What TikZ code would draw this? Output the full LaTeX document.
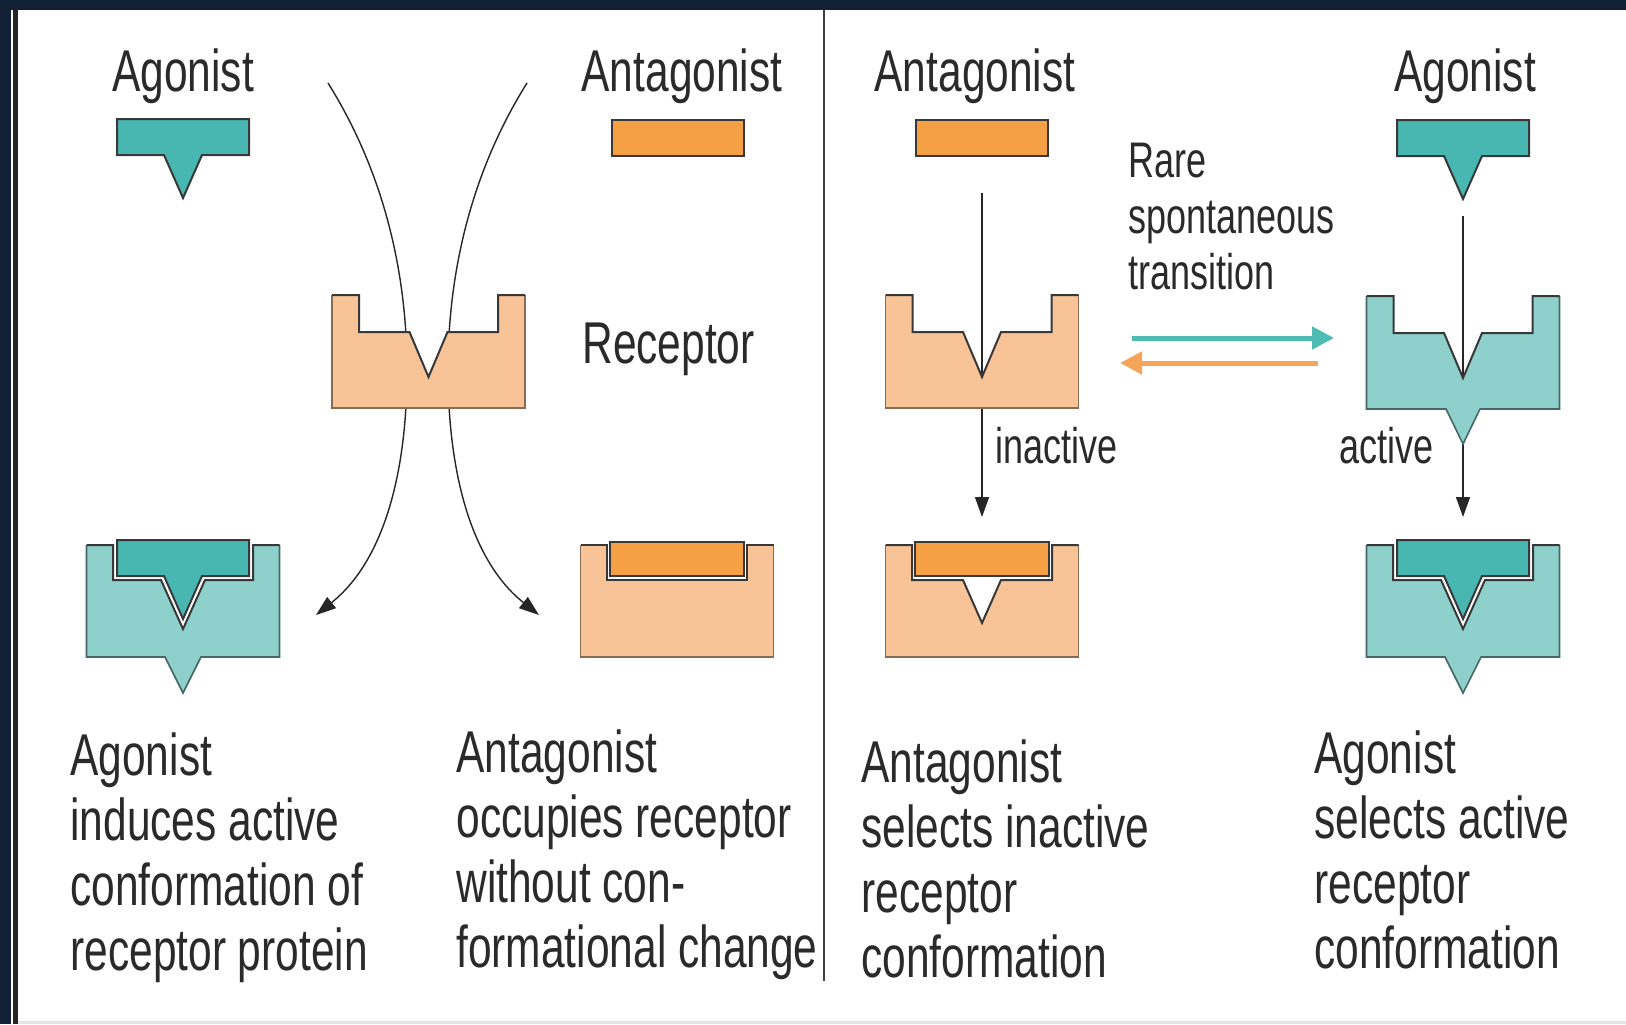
\documentclass[tikz,border=0pt]{standalone}
\usepackage{fontspec}
\setmainfont{Liberation Sans}[FakeStretch=0.72]
\usetikzlibrary{arrows.meta}
\definecolor{navy}{HTML}{122036}
\definecolor{agoD}{HTML}{48B7B1}
\definecolor{agoL}{HTML}{8DD0CC}
\definecolor{antD}{HTML}{F6A046}
\definecolor{antL}{HTML}{F8C396}
\definecolor{ink}{HTML}{2A2A2A}
\definecolor{edge}{HTML}{383838}
\definecolor{arrT}{HTML}{4FBCB4}
\definecolor{arrO}{HTML}{F4A55A}
\tikzset{
  lig/.style={draw=edge, line width=1pt, line join=miter},
  notch/.style={draw=edge, line width=1pt, line join=miter},
  outerO/.style={draw=antL!55!black, line width=0.8pt},
  outerT/.style={draw=agoL!50!black, line width=0.8pt},
  thinarrow/.style={draw=black!85, line width=0.7pt, -{Triangle[length=10pt,width=7pt]}},
  hd/.style={font=\fontsize{29.5pt}{32.5pt}\selectfont, text=ink, inner sep=0pt},
  sm/.style={font=\fontsize{25pt}{28pt}\selectfont, text=ink, inner sep=0pt},
  captext/.style={hd, align=left, anchor=base west},
  agonistpic/.pic={\filldraw[lig, fill=agoD] (-66,0) -- (66,0) -- (66,36) -- (19,36) -- (0,79) -- (-19,36) -- (-66,36) -- cycle;},
  antagonistpic/.pic={\filldraw[lig, fill=antD] (-66,0) rectangle (66,36);},
  recfreeO/.pic={
    \fill[antL] (-96.5,0) -- (-69.5,0) -- (-69.5,37) -- (-19,37) -- (0,82) -- (19,37) -- (69.5,37) -- (69.5,0) -- (96.5,0) -- (96.5,113) -- (-96.5,113) -- cycle;
    \draw[outerO] (96.5,0) -- (96.5,113) -- (-96.5,113) -- (-96.5,0);
    \draw[notch] (-96.5,0) -- (-69.5,0) -- (-69.5,37) -- (-19,37) -- (0,82) -- (19,37) -- (69.5,37) -- (69.5,0) -- (96.5,0);
  },
  recfreeT/.pic={
    \fill[agoL] (-96.5,0) -- (-69.5,0) -- (-69.5,37) -- (-19,37) -- (0,82) -- (19,37) -- (69.5,37) -- (69.5,0) -- (96.5,0) -- (96.5,113) -- (17,113) -- (0,148) -- (-17,113) -- (-96.5,113) -- cycle;
    \draw[outerT, line join=miter] (96.5,0) -- (96.5,113) -- (17,113) -- (0,148) -- (-17,113) -- (-96.5,113) -- (-96.5,0);
    \draw[notch] (-96.5,0) -- (-69.5,0) -- (-69.5,37) -- (-19,37) -- (0,82) -- (19,37) -- (69.5,37) -- (69.5,0) -- (96.5,0);
  },
  boundAgo/.pic={
    \fill[agoL] (-96.5,0) -- (-70,0) -- (-70,35) -- (-22,35) -- (0,84) -- (22,35) -- (70,35) -- (70,0) -- (96.5,0) -- (96.5,112) -- (18,112) -- (0,148) -- (-18,112) -- (-96.5,112) -- cycle;
    \draw[outerT, line join=miter] (96.5,0) -- (96.5,112) -- (18,112) -- (0,148) -- (-18,112) -- (-96.5,112) -- (-96.5,0);
    \draw[notch] (-96.5,0) -- (-70,0) -- (-70,35) -- (-22,35) -- (0,84) -- (22,35) -- (70,35) -- (70,0) -- (96.5,0);
    \filldraw[lig, fill=agoD] (-66,-5) -- (66,-5) -- (66,31) -- (19,31) -- (0,74) -- (-19,31) -- (-66,31) -- cycle;
  },
  boundAntFlat/.pic={
    \fill[antL] (-96.5,0) -- (-70,0) -- (-70,35) -- (70,35) -- (70,0) -- (96.5,0) -- (96.5,112) -- (-96.5,112) -- cycle;
    \draw[outerO] (96.5,0) -- (96.5,112) -- (-96.5,112) -- (-96.5,0);
    \draw[notch] (-96.5,0) -- (-70,0) -- (-70,35) -- (70,35) -- (70,0) -- (96.5,0);
    \filldraw[lig, fill=antD] (-67,-3) rectangle (67,31);
  },
  boundAntV/.pic={
    \fill[antL] (-96.5,0) -- (-70,0) -- (-70,35) -- (-19,35) -- (0,78) -- (19,35) -- (70,35) -- (70,0) -- (96.5,0) -- (96.5,112) -- (-96.5,112) -- cycle;
    \draw[outerO] (96.5,0) -- (96.5,112) -- (-96.5,112) -- (-96.5,0);
    \draw[notch] (-96.5,0) -- (-70,0) -- (-70,35) -- (-19,35) -- (0,78) -- (19,35) -- (70,35) -- (70,0) -- (96.5,0);
    \filldraw[lig, fill=antD] (-67,-3) rectangle (67,31);
  }
}
\begin{document}
\begin{tikzpicture}[x=0.5pt, y=-0.5pt]
\useasboundingbox (0,0) rectangle (1626,1024);
\fill[white] (0,0) rectangle (1626,1024);
% frame
\fill[navy] (0,0) rectangle (1626,10);
\fill[navy] (0,0) rectangle (11,1024);
\fill[black!85] (13,10) rectangle (18,1024);
\fill[black!10] (18,1021) rectangle (1626,1024);
% divider
\coordinate (divT) at (824,10);
\coordinate (divB) at (824,981);
\draw[black!75, line width=1pt] (divT) -- (divB);

% connectors (behind shapes)
\coordinate (cLs) at (328,83);
\coordinate (cLm) at (407,370);
\coordinate (cLe) at (316,615);
\coordinate (cRs) at (527,83);
\coordinate (cRm) at (448,370);
\coordinate (cRe) at (539,615);
\draw[thinarrow] (cLs) .. controls (395,190) and (407,300) .. (cLm) .. controls (407,470) and (385,560) .. (cLe);
\draw[thinarrow] (cRs) .. controls (460,190) and (448,300) .. (cRm) .. controls (448,470) and (470,560) .. (cRe);
\coordinate (vA1) at (982,193);
\coordinate (vA2) at (982,517);
\coordinate (vB1) at (1463,216);
\coordinate (vB2) at (1463,517);
\draw[thinarrow] (vA1) -- (vA2);
\draw[thinarrow] (vB1) -- (vB2);

% shapes
\pic at (183,119) {agonistpic};
\pic at (677.5,120) {antagonistpic};
\pic at (428.5,295) {recfreeO};
\pic at (183,545) {boundAgo};
\pic at (677,545) {boundAntFlat};
\pic at (981.5,120) {antagonistpic};
\pic at (982,295) {recfreeO};
\pic at (982,545) {boundAntV};
\pic at (1463,120) {agonistpic};
\pic at (1463,296) {recfreeT};
\pic at (1463,545) {boundAgo};

% transition arrows
\coordinate (tT1) at (1132,338);
\coordinate (tT2) at (1334,338);
\coordinate (tO1) at (1318,363);
\coordinate (tO2) at (1120,363);
\draw[arrT, line width=2.5pt, -{Triangle[length=11pt,width=11pt]}] (tT1) -- (tT2);
\draw[arrO, line width=2.5pt, -{Triangle[length=11pt,width=11pt]}] (tO1) -- (tO2);

% labels (multi-line nodes: base anchor = last line)
\node[hd, anchor=base] (hAgoL) at (183,91) {Agonist};
\node[hd, anchor=base] (hAntL) at (682,91) {Antagonist};
\node[hd, anchor=base] (hAntR) at (975,91) {Antagonist};
\node[hd, anchor=base] (hAgoR) at (1465,91) {Agonist};
\node[hd, anchor=base west] (hRec) at (582,363) {Receptor};
\node[sm, anchor=base west, align=left] (hRare) at (1128,289) {Rare\\spontaneous\\transition};
\node[sm, anchor=base west] (hInact) at (995,463) {inactive};
\node[sm, anchor=base west] (hAct) at (1339,463) {active};
\node[captext] (c1) at (70,970) {Agonist\\induces active\\conformation of\\receptor protein};
\node[captext] (c2) at (456,967) {Antagonist\\occupies receptor\\without con-\\formational change};
\node[captext] (c3) at (861,977) {Antagonist\\selects inactive\\receptor\\conformation};
\node[captext] (c4) at (1314,968) {Agonist\\selects active\\receptor\\conformation};
\end{tikzpicture}
\end{document}
